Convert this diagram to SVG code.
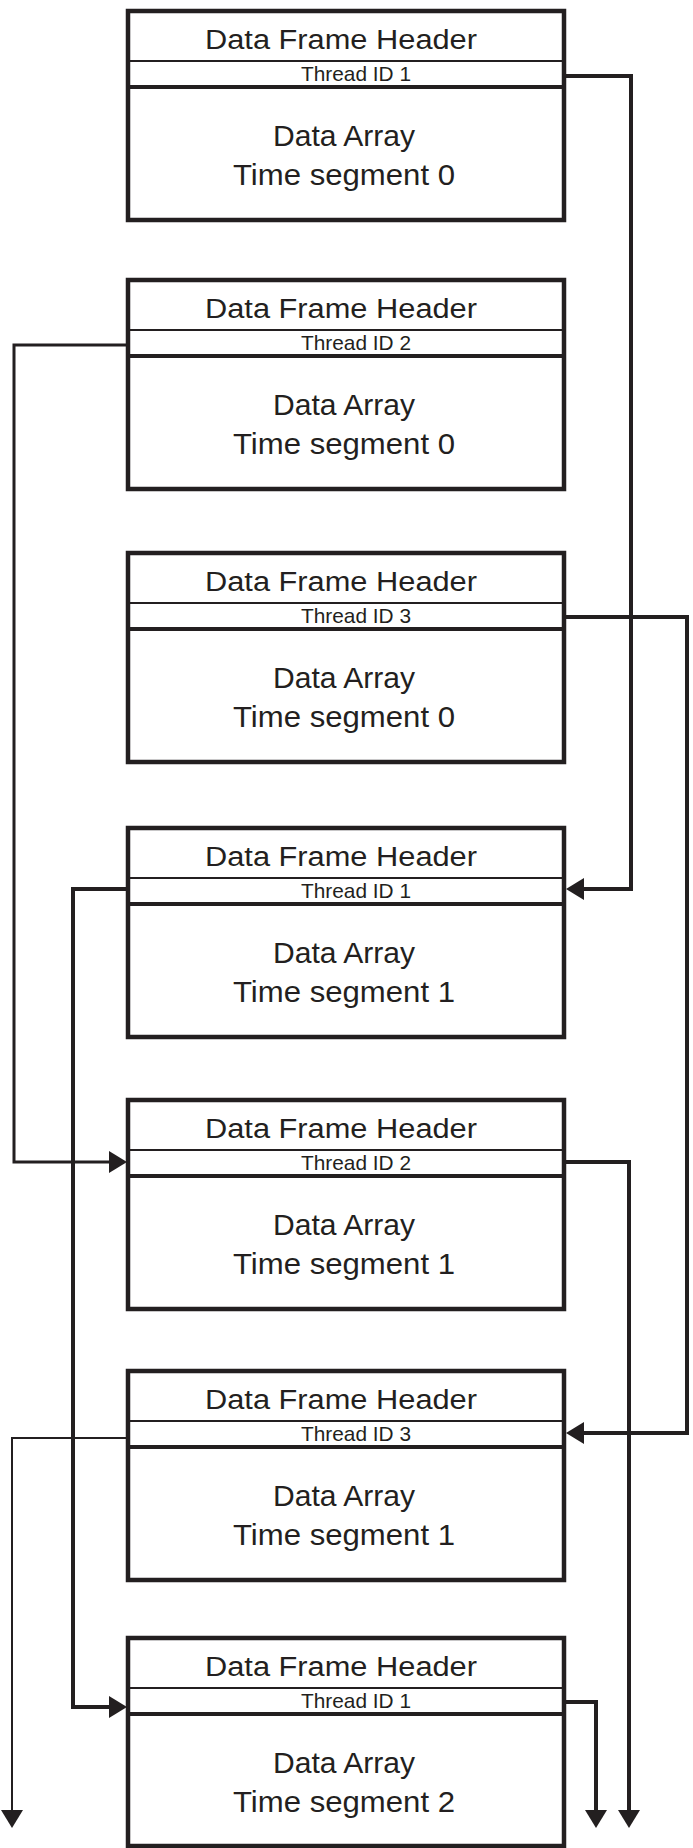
<svg xmlns="http://www.w3.org/2000/svg" width="693" height="1848" viewBox="0 0 693 1848">
<style>
.frame{fill:#ffffff;stroke:#231f20;stroke-width:4.5}
.div{stroke:#231f20;stroke-width:2}
.tl{stroke:#231f20;stroke-width:4}
text{font-family:"Liberation Sans",Arial,sans-serif;fill:#231f20;text-anchor:middle}
.h{font-size:27px}
.t{font-size:21px}
.d{font-size:30px}
.c{fill:none;stroke:#231f20;stroke-width:4;stroke-linejoin:miter}
.c3{stroke-width:3}
.c2{stroke-width:2}
</style>
<defs>
<marker id="ah" markerUnits="userSpaceOnUse" markerWidth="18" markerHeight="22" refX="8" refY="11" orient="auto">
<path d="M0,0 L18,11 L0,22 z" fill="#231f20"/>
</marker>
</defs>
<g id="frame1" transform="translate(0,11)">
<rect class="frame" x="128" y="0" width="436" height="209"/>
<line class="div" x1="128" y1="50" x2="564" y2="50"/>
<line class="tl" x1="128" y1="76" x2="564" y2="76"/>
<text class="h" x="341" y="38" textLength="272" lengthAdjust="spacingAndGlyphs">Data Frame Header</text>
<text class="t" x="356" y="70" textLength="110" lengthAdjust="spacingAndGlyphs">Thread ID 1</text>
<text class="d" x="344" y="135" textLength="142" lengthAdjust="spacingAndGlyphs">Data Array</text>
<text class="d" x="344" y="174" textLength="222" lengthAdjust="spacingAndGlyphs">Time segment 0</text>
</g>
<g id="frame2" transform="translate(0,280)">
<rect class="frame" x="128" y="0" width="436" height="209"/>
<line class="div" x1="128" y1="50" x2="564" y2="50"/>
<line class="tl" x1="128" y1="76" x2="564" y2="76"/>
<text class="h" x="341" y="38" textLength="272" lengthAdjust="spacingAndGlyphs">Data Frame Header</text>
<text class="t" x="356" y="70" textLength="110" lengthAdjust="spacingAndGlyphs">Thread ID 2</text>
<text class="d" x="344" y="135" textLength="142" lengthAdjust="spacingAndGlyphs">Data Array</text>
<text class="d" x="344" y="174" textLength="222" lengthAdjust="spacingAndGlyphs">Time segment 0</text>
</g>
<g id="frame3" transform="translate(0,553)">
<rect class="frame" x="128" y="0" width="436" height="209"/>
<line class="div" x1="128" y1="50" x2="564" y2="50"/>
<line class="tl" x1="128" y1="76" x2="564" y2="76"/>
<text class="h" x="341" y="38" textLength="272" lengthAdjust="spacingAndGlyphs">Data Frame Header</text>
<text class="t" x="356" y="70" textLength="110" lengthAdjust="spacingAndGlyphs">Thread ID 3</text>
<text class="d" x="344" y="135" textLength="142" lengthAdjust="spacingAndGlyphs">Data Array</text>
<text class="d" x="344" y="174" textLength="222" lengthAdjust="spacingAndGlyphs">Time segment 0</text>
</g>
<g id="frame4" transform="translate(0,828)">
<rect class="frame" x="128" y="0" width="436" height="209"/>
<line class="div" x1="128" y1="50" x2="564" y2="50"/>
<line class="tl" x1="128" y1="76" x2="564" y2="76"/>
<text class="h" x="341" y="38" textLength="272" lengthAdjust="spacingAndGlyphs">Data Frame Header</text>
<text class="t" x="356" y="70" textLength="110" lengthAdjust="spacingAndGlyphs">Thread ID 1</text>
<text class="d" x="344" y="135" textLength="142" lengthAdjust="spacingAndGlyphs">Data Array</text>
<text class="d" x="344" y="174" textLength="222" lengthAdjust="spacingAndGlyphs">Time segment 1</text>
</g>
<g id="frame5" transform="translate(0,1100)">
<rect class="frame" x="128" y="0" width="436" height="209"/>
<line class="div" x1="128" y1="50" x2="564" y2="50"/>
<line class="tl" x1="128" y1="76" x2="564" y2="76"/>
<text class="h" x="341" y="38" textLength="272" lengthAdjust="spacingAndGlyphs">Data Frame Header</text>
<text class="t" x="356" y="70" textLength="110" lengthAdjust="spacingAndGlyphs">Thread ID 2</text>
<text class="d" x="344" y="135" textLength="142" lengthAdjust="spacingAndGlyphs">Data Array</text>
<text class="d" x="344" y="174" textLength="222" lengthAdjust="spacingAndGlyphs">Time segment 1</text>
</g>
<g id="frame6" transform="translate(0,1371)">
<rect class="frame" x="128" y="0" width="436" height="209"/>
<line class="div" x1="128" y1="50" x2="564" y2="50"/>
<line class="tl" x1="128" y1="76" x2="564" y2="76"/>
<text class="h" x="341" y="38" textLength="272" lengthAdjust="spacingAndGlyphs">Data Frame Header</text>
<text class="t" x="356" y="70" textLength="110" lengthAdjust="spacingAndGlyphs">Thread ID 3</text>
<text class="d" x="344" y="135" textLength="142" lengthAdjust="spacingAndGlyphs">Data Array</text>
<text class="d" x="344" y="174" textLength="222" lengthAdjust="spacingAndGlyphs">Time segment 1</text>
</g>
<g id="frame7" transform="translate(0,1638)">
<rect class="frame" x="128" y="0" width="436" height="208"/>
<line class="div" x1="128" y1="50" x2="564" y2="50"/>
<line class="tl" x1="128" y1="76" x2="564" y2="76"/>
<text class="h" x="341" y="38" textLength="272" lengthAdjust="spacingAndGlyphs">Data Frame Header</text>
<text class="t" x="356" y="70" textLength="110" lengthAdjust="spacingAndGlyphs">Thread ID 1</text>
<text class="d" x="344" y="135" textLength="142" lengthAdjust="spacingAndGlyphs">Data Array</text>
<text class="d" x="344" y="174" textLength="222" lengthAdjust="spacingAndGlyphs">Time segment 2</text>
</g>
<g id="connectors">
<path class="c" d="M566,76 H631 V889 H576" marker-end="url(#ah)"/>
<path class="c c3" d="M126,345 H14 V1162 H117" marker-end="url(#ah)"/>
<path class="c" d="M566,617 H687 V1433 H576" marker-end="url(#ah)"/>
<path class="c" d="M126,889 H73 V1707 H117" marker-end="url(#ah)"/>
<path class="c" d="M566,1162 H629 V1818" marker-end="url(#ah)"/>
<path class="c c2" d="M126,1438 H12 V1818" marker-end="url(#ah)"/>
<path class="c" d="M566,1702 H596 V1818" marker-end="url(#ah)"/>
</g>
</svg>
